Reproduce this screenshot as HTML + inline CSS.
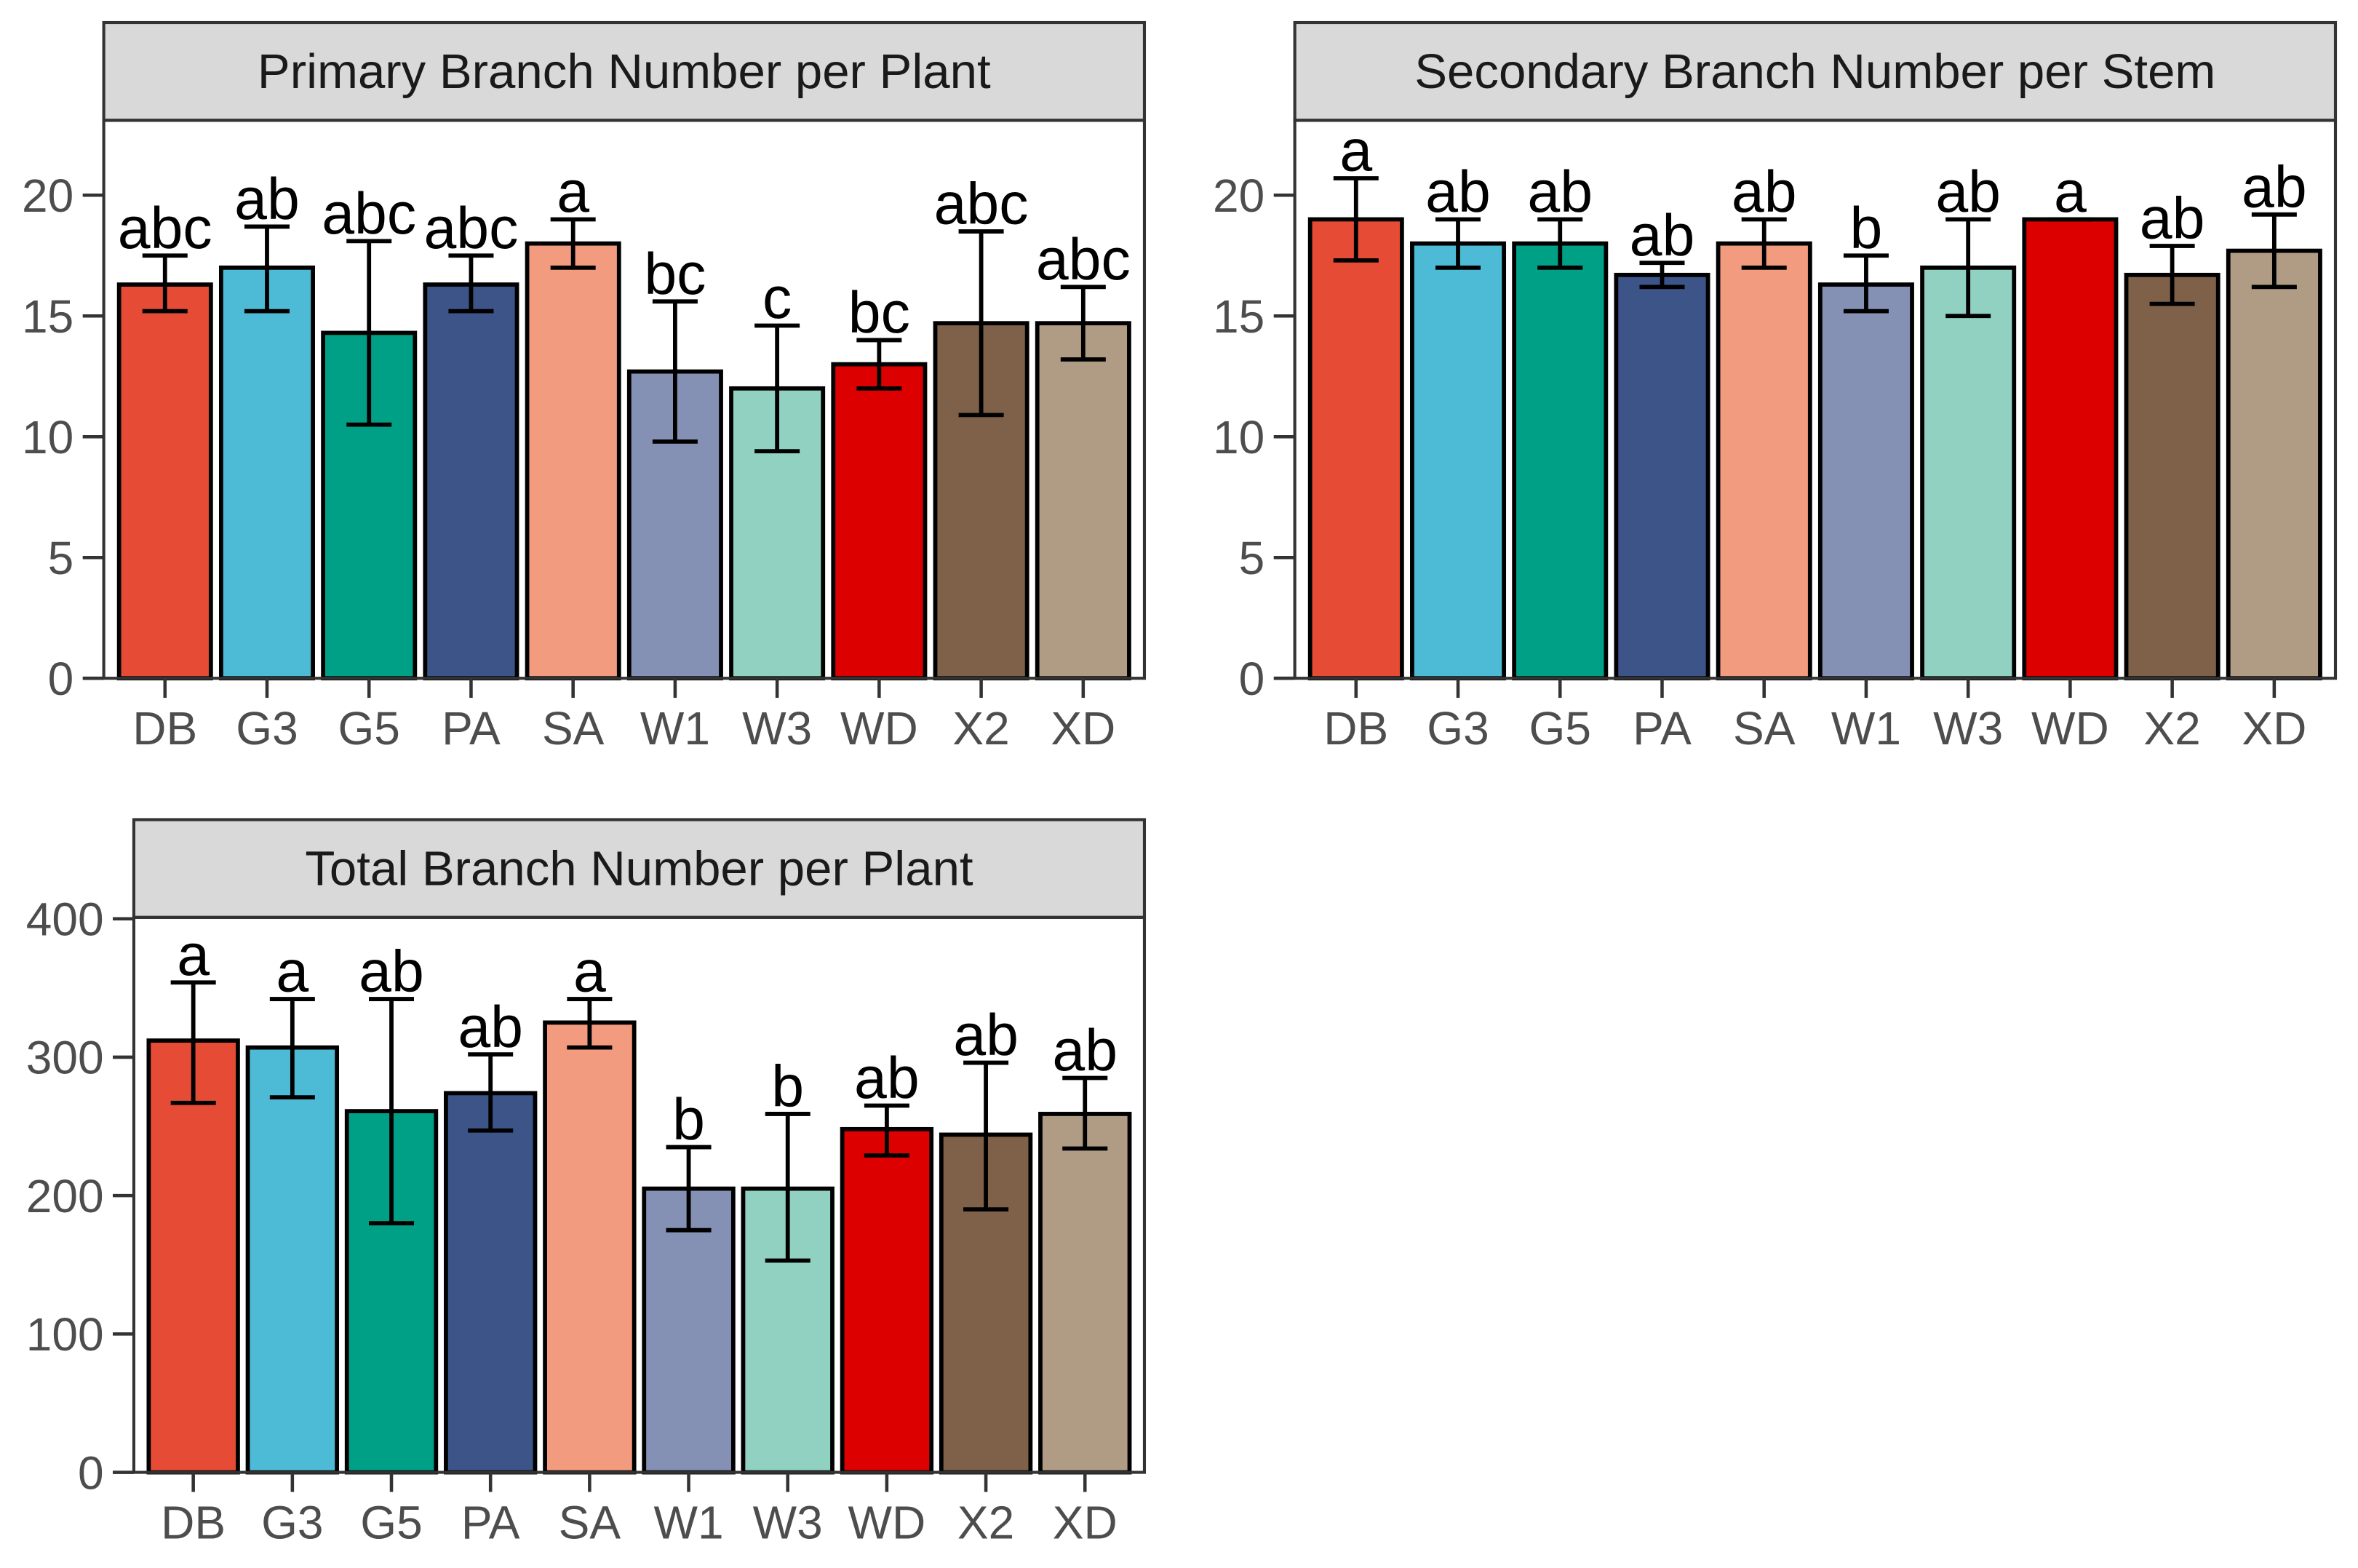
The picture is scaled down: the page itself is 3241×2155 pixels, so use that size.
<!DOCTYPE html>
<html><head><meta charset="utf-8"><style>
html,body{margin:0;padding:0;background:#fff}
svg{display:block}
text{font-family:"Liberation Sans",Arial,sans-serif}
</style></head><body>
<svg id="chart" xmlns="http://www.w3.org/2000/svg" width="3241" height="2155" viewBox="0 0 1568 1042.6" preserveAspectRatio="none"></svg>
<script>
const categories = ["DB","G3","G5","PA","SA","W1","W3","WD","X2","XD"];
const colors = ["#E64B35","#4DBBD5","#00A087","#3C5488","#F39B7F","#8491B4","#91D1C2","#DC0000","#7E6148","#B09C85"];
const primaryMean = [16.3,17.0,14.3,16.3,18.0,12.7,12.0,13.0,14.7,14.7];
const primaryLo = [15.2,15.2,10.5,15.2,17.0,9.8,9.4,12.0,10.9,13.2];
const primaryHi = [17.5,18.7,18.1,17.5,19.0,15.6,14.6,14.0,18.5,16.2];
const primaryLetters = ["abc","ab","abc","abc","a","bc","c","bc","abc","abc"];
const primaryTicks = [0,5,10,15,20];
const secondaryMean = [19.0,18.0,18.0,16.7,18.0,16.3,17.0,19.0,16.7,17.7];
const secondaryLo = [17.3,17.0,17.0,16.2,17.0,15.2,15.0,19.0,15.5,16.2];
const secondaryHi = [20.7,19.0,19.0,17.2,19.0,17.5,19.0,19.0,17.9,19.2];
const secondaryLetters = ["a","ab","ab","ab","ab","b","ab","a","ab","ab"];
const secondaryTicks = [0,5,10,15,20];
const totalMean = [312,307,261,274,325,205,205,248,244,259];
const totalLo = [267,271,180,247,307,175,153,229,190,234];
const totalHi = [354,342,342,302,342,235,259,265,296,285];
const totalLetters = ["a","a","ab","ab","a","b","b","ab","ab","ab"];
const totalTicks = [0,100,200,300,400];

const NS="http://www.w3.org/2000/svg";
const svg=document.getElementById('chart');
function mk(tag,attrs,parent){const e=document.createElementNS(NS,tag);for(const k in attrs)e.setAttribute(k,attrs[k]);(parent||svg).appendChild(e);return e;}

function panel(cfg){
  const g=mk('g',{});
  
  
  const {x0,x1,sy0,sy1,py1,ymax}=cfg;
  const y=v=>py1-(v/ymax)*(py1-sy1);
  const n=categories.length;
  const step=(x1-x0)/(n-1+1.2);
  const xc=i=>x0+step*(0.6+i);
  const bw=step*0.9;
  const strip=mk('rect',{x:x0,y:sy0,width:x1-x0,height:sy1-sy0,fill:'#d9d9d9',stroke:'#333',"stroke-width":2},g);
  
  
  const st=mk('text',{x:(x0+x1)/2,y:(sy0+sy1)/2+11,"text-anchor":"middle","font-size":32.5,fill:'#1a1a1a'},g);
  st.textContent=cfg.title;
  
  
  cfg.ticks.forEach(t=>{
    const ty=y(t);
    const tl=mk('line',{x1:x0-14,x2:x0,y1:ty,y2:ty,stroke:'#333',"stroke-width":2.2},g);
    
    
    const tx=mk('text',{x:x0-20,y:ty+11,"text-anchor":"end","font-size":31,fill:'#4d4d4d'},g);
    tx.textContent=t;
    
    
  });
  categories.forEach((c,i)=>{
    const cx=xc(i), top=y(cfg.mean[i]);
    const b=mk('rect',{x:cx-bw/2,y:top,width:bw,height:py1-top,fill:colors[i],stroke:'#000',"stroke-width":2.8},g);
    
    
    const yl=y(cfg.lo[i]), yh=y(cfg.hi[i]);
    const eb=mk('path',{d:`M${cx},${yl}V${yh}M${cx-15},${yl}H${cx+15}M${cx-15},${yh}H${cx+15}`,stroke:'#000',"stroke-width":2.8,fill:'none'},g);
    
    
    const lt=mk('text',{x:cx,y:yh-5,"text-anchor":"middle","font-size":39,fill:'#000'},g);
    lt.textContent=cfg.letters[i];
    
    
    const xt=mk('line',{x1:cx,x2:cx,y1:py1,y2:py1+13,stroke:'#333',"stroke-width":2.2},g);
    
    
    const xl=mk('text',{x:cx,y:py1+44,"text-anchor":"middle","font-size":31,fill:'#4d4d4d'},g);
    xl.textContent=c;
    
    
  });
  const fr=mk('rect',{x:x0,y:sy1,width:x1-x0,height:py1-sy1,fill:'none',stroke:'#333',"stroke-width":2},g);
  
  
}
panel({name:'primary-panel',title:'Primary Branch Number per Plant',x0:69,x1:761,sy0:15,sy1:80,py1:451,ymax:23.1,ticks:primaryTicks,mean:primaryMean,lo:primaryLo,hi:primaryHi,letters:primaryLetters});
panel({name:'secondary-panel',title:'Secondary Branch Number per Stem',x0:861,x1:1553,sy0:15,sy1:80,py1:451,ymax:23.1,ticks:secondaryTicks,mean:secondaryMean,lo:secondaryLo,hi:secondaryHi,letters:secondaryLetters});
panel({name:'total-panel',title:'Total Branch Number per Plant',x0:89,x1:761,sy0:545,sy1:610,py1:979,ymax:401,ticks:totalTicks,mean:totalMean,lo:totalLo,hi:totalHi,letters:totalLetters});
</script>
</body></html>
